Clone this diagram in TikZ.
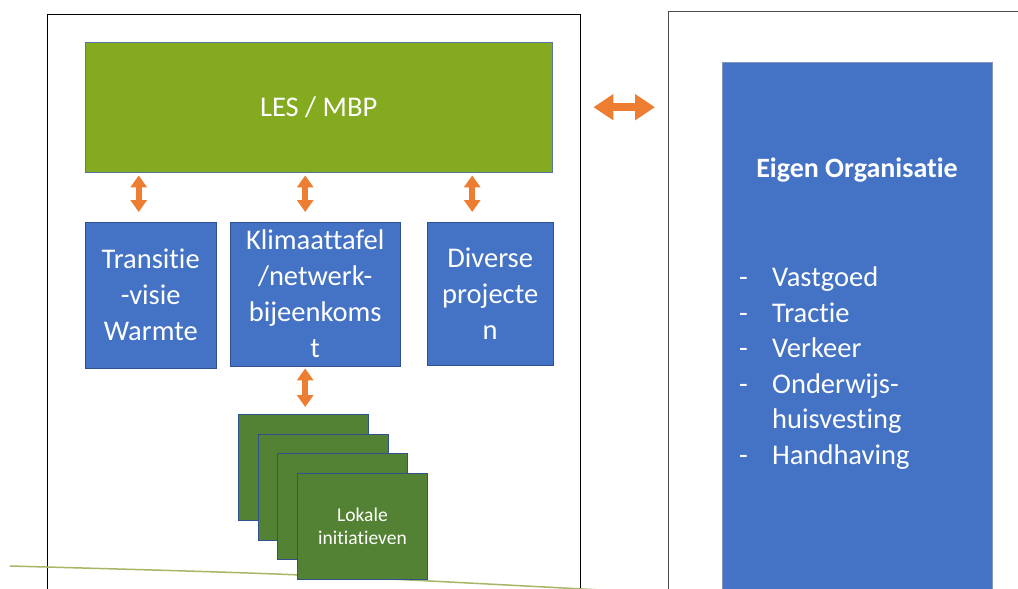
\documentclass[tikz,border=0pt]{standalone}
\usepackage{fontspec}
\setmainfont{Carlito}[RawFeature=-liga]
\usetikzlibrary{arrows.meta}
\definecolor{lesgreen}{RGB}{132,170,32}
\definecolor{boxblue}{RGB}{68,114,196}
\definecolor{edgeblue}{RGB}{47,82,143}
\definecolor{localgreen}{RGB}{84,130,53}
\definecolor{linkorange}{RGB}{237,125,49}
\definecolor{groundline}{RGB}{165,182,100}
\tikzset{
    frame/.style={draw, anchor=north west, inner sep=0pt, minimum height=700pt}, % de twee kaders
    bluebox/.style={draw=edgeblue, fill=boxblue, text=white, anchor=north west, align=center, inner sep=0pt, font=\fontsize{28.5}{36}\selectfont},
    localbox/.style={draw=edgeblue, line width=1pt, fill=localgreen, text=white, anchor=north west, align=center, inner sep=0pt, minimum width=130pt, minimum height=106pt, font=\fontsize{19.5}{23}\selectfont},
    link/.style={linkorange, line width=6pt, {Triangle[width=16pt,length=12pt]}-{Triangle[width=16pt,length=12pt]}},
    big link/.style={linkorange, line width=8pt, {Triangle[width=25pt,length=20pt]}-{Triangle[width=25pt,length=20pt]}}
}
\begin{document}
\begin{tikzpicture}[x=1pt, y=-1pt]
    \useasboundingbox (0,0) rectangle (1018,589);
    \clip (0,0) rectangle (1018,589);

    % kaders
    \node[frame, black, minimum width=533pt] (lframe) at (47,14) {};
    \node[frame, gray!60!black, minimum width=500pt] (rframe) at (668,11) {};
    \draw[groundline, line width=1.5pt] (10,566) .. controls (300,574) .. (620,591);

    % linker kader
    \node[bluebox, draw=edgeblue!80, fill=lesgreen, minimum width=467pt, minimum height=130pt] (les) at (85,42) {LES / MBP};
    \node[bluebox, minimum width=131pt, minimum height=146pt] (trans) at (85,222) {Transitie\\-visie\\Warmte};
    \node[bluebox, minimum width=170pt, minimum height=144pt] (klim) at (230,222) {Klimaattafel\\/netwerk-\\bijeenkoms\\t};
    \node[bluebox, minimum width=126pt, minimum height=143pt] (div) at (427,222) {Diverse\\projecte\\n};

    \foreach \i in {0,1,2} {\node[localbox] (loc\i) at (238+19.7*\i, 414+19.7*\i) {};}
    \node[localbox] (loc3) at (297,473) {Lokale\\initiatieven};

    \draw[link, shorten <=3pt, shorten >=10pt] ([xshift=-12pt]trans.north |- les.south) -- ([xshift=-12pt]trans.north);
    \draw[link, shorten <=3pt, shorten >=10pt] ([xshift=-10pt]klim.north |- les.south) -- ([xshift=-10pt]klim.north);
    \draw[link, shorten <=3pt, shorten >=10pt] ([xshift=-18pt]div.north |- les.south) -- ([xshift=-18pt]div.north);
    \draw[link, shorten <=2pt, shorten >=7pt] ([xshift=-10pt]klim.south) -- ([xshift=-10pt]klim.south |- loc0.north);

    % rechter kader
    \node[bluebox, draw=edgeblue!60, minimum width=270pt, minimum height=600pt] (eigen) at (722,62) {};
    \node[text=white, font=\bfseries\fontsize{28}{34}\selectfont] (eigentitel) at (857,170) {Eigen Organisatie};
    \node[text=white, anchor=north west, align=left, inner sep=0pt, font=\fontsize{28.5}{35.5}\selectfont] (eigenlijst) at (739,267) {%
        \makebox[33pt][l]{-}Vastgoed\\
        \makebox[33pt][l]{-}Tractie\\
        \makebox[33pt][l]{-}Verkeer\\
        \makebox[33pt][l]{-}Onderwijs-\\
        \hspace*{33pt}huisvesting\\
        \makebox[33pt][l]{-}Handhaving};

    \draw[big link, shorten <=13pt, shorten >=13pt] (lframe.east |- les.east) -- (rframe.west |- les.east);
\end{tikzpicture}
\end{document}
